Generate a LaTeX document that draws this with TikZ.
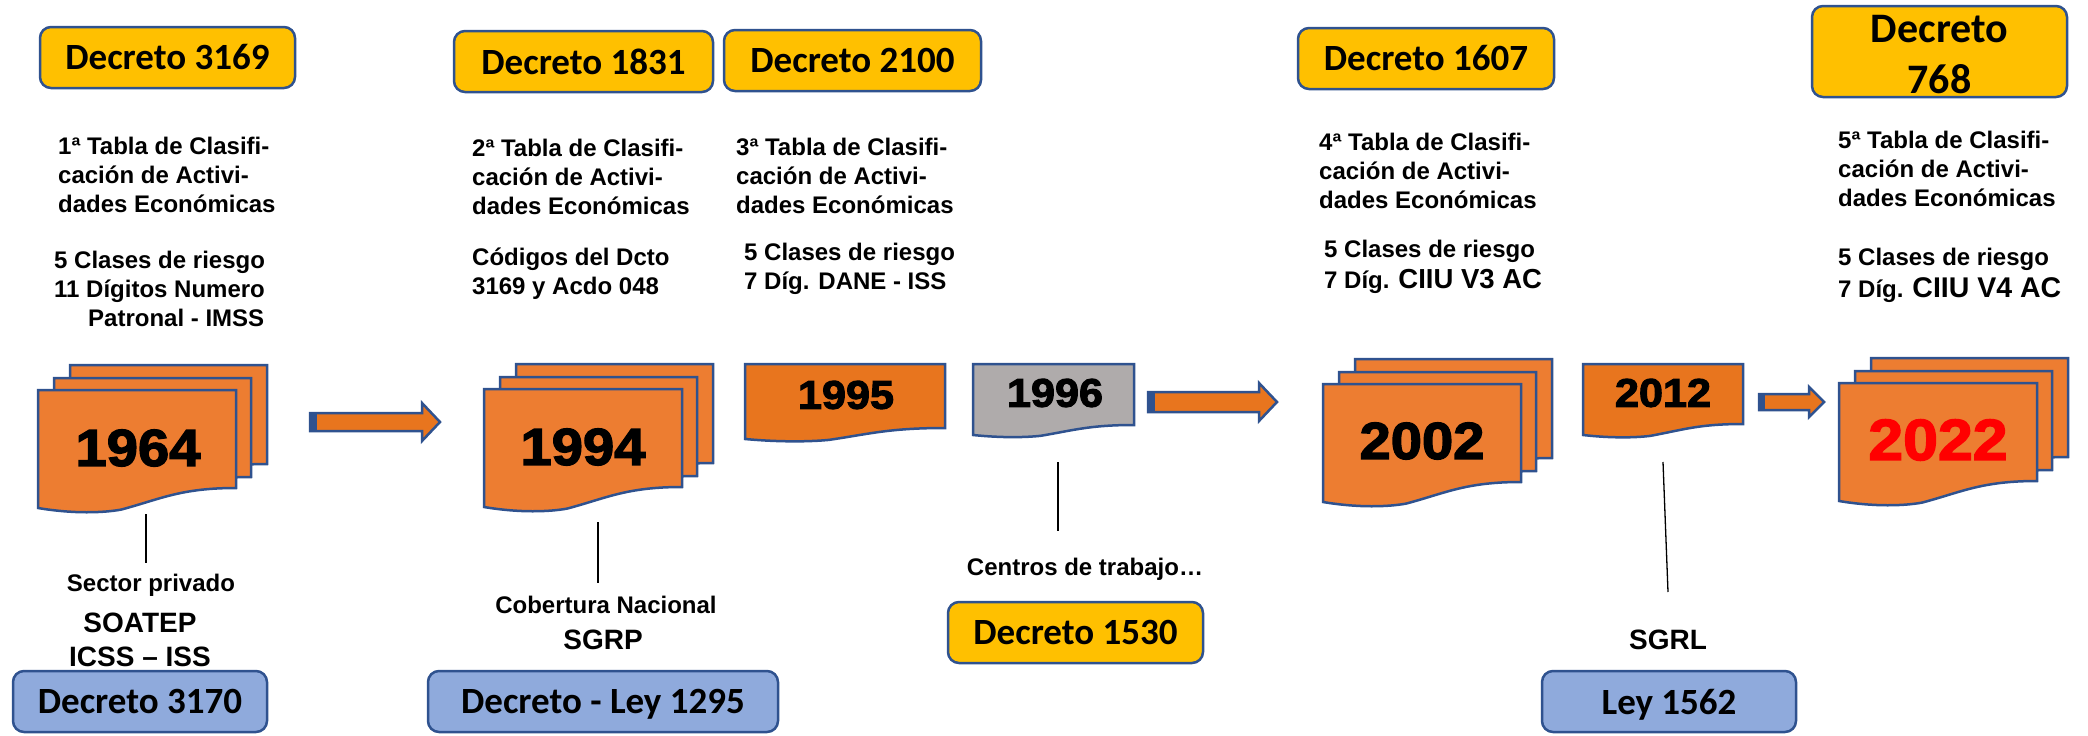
\documentclass[tikz,border=0pt]{standalone}
\usepackage{fontspec}
\setmainfont{Liberation Sans}
\newfontfamily\boxfont{Carlito}
\newfontfamily\yearfont[FakeStretch=1.08,FakeBold=2.6]{Liberation Sans Bold}
\definecolor{bordeazul}{HTML}{2F528F}
\definecolor{naranja}{HTML}{ED7D31}
\definecolor{naranjaosc}{HTML}{E8751E}
\definecolor{gris}{HTML}{AFABAB}
\definecolor{amarillo}{HTML}{FFC000}
\definecolor{azul}{HTML}{8FAADC}
\tikzset{
  hoja/.style={draw=bordeazul, line width=2.5pt, miter limit=4},
  decreto/.style={draw=bordeazul, line width=2.5pt, rounded corners=11pt, inner sep=0pt, minimum height=61pt,
    font=\boxfont\bfseries\fontsize{37}{44}\selectfont},
  anio/.style={inner sep=0pt, font=\yearfont\fontsize{#1}{#1}\selectfont},
  texto/.style={inner sep=0pt, anchor=west, align=left, font=\bfseries\fontsize{24}{29}\selectfont},
  rotulo/.style={inner sep=0pt, align=center, font=\bfseries\fontsize{24}{29}\selectfont},
  sigla/.style={inner sep=0pt, align=center, font=\bfseries\fontsize{28}{34}\selectfont},
  linea/.style={line width=1.3pt, black},
}
\newcommand{\hojita}[6][naranja]{
    \begin{scope}[shift={(#2,#3)}]
      \path[hoja, fill=#1] (0,0) -- (#4,0) -- (#4,#5)
        .. controls ({.72*#4},#5) and ({.62*#4},{#5+.55*#6}) .. ({.42*#4},{#5+1.08*#6})
        .. controls ({.33*#4},{#5+1.24*#6}) and ({.18*#4},{#5+1.3*#6}) .. (0,{#5+#6}) -- cycle;
    \end{scope}
}
\newcommand{\pila}[2]{
    \hojita{#1+32}{#2-25}{197}{99}{20}
    \hojita{#1+16}{#2-12}{197}{99}{20}
    \hojita{#1}{#2}{198}{98}{20}
}
\newcommand{\flecha}[7]{
    \path[hoja, fill=naranjaosc] (#1,#3-#6) -- (#4,#3-#6) -- (#4,#3-#5) -- (#2,#3) -- (#4,#3+#5) -- (#4,#3+#6) -- (#1,#3+#6) -- cycle;
    \fill[bordeazul] (#1-1,#3-#6-1) rectangle (#1+#7,#3+#6+1);
}
\begin{document}
\begin{tikzpicture}[x=1pt, y=-1pt]
    \useasboundingbox (0,0) rectangle (2088,736);
    \pila{38}{390}
    \pila{484}{389}
    \pila{1323}{384}
    \pila{1839}{383}
    \hojita[naranjaosc]{745}{364}{200}{64}{11}
    \hojita[gris]{973}{364}{161}{61}{10}
    \hojita[naranjaosc]{1583}{364}{160}{60}{11}
    \flecha{310}{440}{422}{422}{19}{9}{7}
    \flecha{1148}{1277}{402}{1259}{19}{10}{7}
    \flecha{1759}{1824}{402}{1809}{15}{8}{6}
    \node[anio=52] (y1964) at (138,448) {1964};
    \node[anio=52] (y1994) at (583,447) {1994};
    \node[anio=40] (y1995) at (846,395) {1995};
    \node[anio=40] (y1996) at (1055,393) {1996};
    \node[anio=52] (y2002) at (1422,441) {2002};
    \node[anio=40] (y2012) at (1663,393) {2012};
    \node[anio=58, text=red] (y2022) at (1938,440) {2022};
    \node[decreto, fill=amarillo, minimum width=255pt] (d3169) at (167.5,57.5) {Decreto 3169};
    \node[decreto, fill=amarillo, minimum width=259pt] (d1831) at (583.5,61.5) {Decreto 1831};
    \node[decreto, fill=amarillo, minimum width=257pt] (d2100) at (852.5,60.5) {Decreto 2100};
    \node[decreto, fill=amarillo, minimum width=256pt] (d1607) at (1426,58.5) {Decreto 1607};
    \node[decreto, fill=amarillo, minimum width=255pt, minimum height=91pt, align=center,
      font=\boxfont\bfseries\fontsize{42}{51}\selectfont] (d768) at (1939.5,51.5) {\rule{0pt}{34pt}Decreto\\768};
    \node[decreto, fill=azul, minimum width=254pt] (d3170) at (140,701.5) {Decreto 3170};
    \node[decreto, fill=azul, minimum width=350pt, text depth=0pt] (d1295) at (603,701.5) {Decreto - Ley 1295};
    \node[decreto, fill=azul, minimum width=254pt, text depth=0pt] (l1562) at (1669,701.5) {Ley 1562};
    \node[decreto, fill=amarillo, minimum width=255pt] (d1530) at (1075.5,632.5) {Decreto 1530};
    \node[texto] (t1) at (58,175) {1ª Tabla de Clasifi-\\cación de Activi-\\dades Económicas};
    \node[texto] (r1) at (54,289) {5 Clases de riesgo\\11 Dígitos Numero\\\hspace*{34pt}Patronal - IMSS};
    \node[texto] (t2) at (472,177) {2ª Tabla de Clasifi-\\cación de Activi-\\dades Económicas};
    \node[texto] (r2) at (472,274) {Códigos del Dcto\\3169 y Acdo 048};
    \node[texto] (t3) at (736,176) {3ª Tabla de Clasifi-\\cación de Activi-\\dades Económicas};
    \node[texto] (r3) at (744,269) {5 Clases de riesgo\\7 Díg. DANE - ISS};
    \node[texto] (t4) at (1319,171) {4ª Tabla de Clasifi-\\cación de Activi-\\dades Económicas};
    \node[texto] (r4) at (1324,267) {5 Clases de riesgo\\[2pt]7 Díg. {\fontsize{27.5}{29}\selectfont CIIU V3 AC}};
    \node[texto] (t5) at (1838,169) {5ª Tabla de Clasifi-\\cación de Activi-\\dades Económicas};
    \node[texto] (r5) at (1838,275) {5 Clases de riesgo\\[3pt]7 Díg. {\fontsize{28.5}{29}\selectfont CIIU V4 AC}};
    \node[rotulo] (n1) at (151,585) {Sector privado};
    \node[sigla] (n2) at (140,640) {SOATEP\\ICSS – ISS};
    \node[rotulo] (n3) at (606,605) {Cobertura Nacional};
    \node[sigla] (n4) at (603,640) {SGRP};
    \node[rotulo] (n5) at (1085,569) {Centros de trabajo…};
    \node[sigla] (n6) at (1668,640) {SGRL};
    \coordinate (c1a) at (146,514);
    \coordinate (c1b) at (146,563);
    \coordinate (c2a) at (598,522);
    \coordinate (c2b) at (598,583);
    \coordinate (c3a) at (1058,462);
    \coordinate (c3b) at (1058,531);
    \coordinate (c4a) at (1663,462);
    \coordinate (c4b) at (1668,592);
    \path[linea] (c1a) edge (c1b);
    \path[linea] (c2a) edge (c2b);
    \path[linea] (c3a) edge (c3b);
    \path[linea] (c4a) edge (c4b);
\end{tikzpicture}
\end{document}
